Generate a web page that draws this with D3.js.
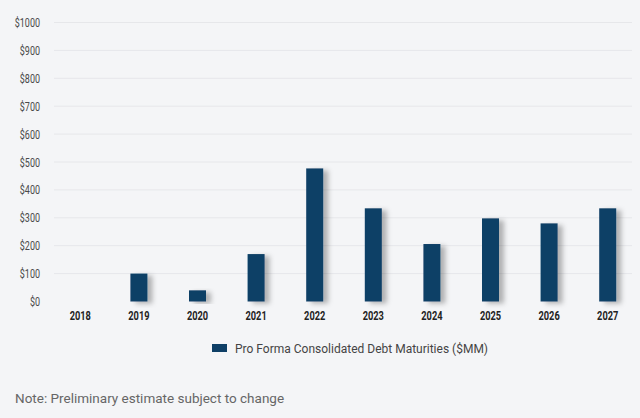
<!DOCTYPE html>
<html><head><meta charset="utf-8">
<script src="https://cdn.jsdelivr.net/npm/d3@7"></script>
<style>
body{margin:0;background:#f4f5f7;}
svg{display:block;}
</style></head>
<body>
<svg id="c" width="640" height="418"></svg>
<script>
const years = ["2018","2019","2020","2021","2022","2023","2024","2025","2026","2027"];
const maturities = [0,100,40,170,477,334,206,298,280,334];
const yTicks = [0,100,200,300,400,500,600,700,800,900,1000];
const seriesName = "Pro Forma Consolidated Debt Maturities ($MM)";
const note = "Note: Preliminary estimate subject to change";

const svg = d3.select("#c");
svg.append("rect").attr("width",640).attr("height",418).attr("fill","#f4f5f7");
const defs = svg.append("defs");
const f = defs.append("filter").attr("id","sh").attr("x","-50%").attr("y","-20%").attr("width","250%").attr("height","140%");
f.append("feDropShadow").attr("dx",5).attr("dy",2).attr("stdDeviation",2.5).attr("flood-color","#000").attr("flood-opacity",0.28);

const x = d3.scaleBand().domain(years).range([51,637]).paddingInner(0.71).paddingOuter(0.355);
const y = d3.scaleLinear().domain([0,1000]).range([301.5,22.5]);

const grid = svg.append("g");
grid.selectAll("line").data(yTicks.filter(d=>d>0)).join("line")
  .attr("x1",54).attr("x2",632).attr("y1",d=>y(d)).attr("y2",d=>y(d))
  .attr("stroke","#e6e7ea").attr("stroke-width",1);

const yAxis = svg.append("g").attr("transform","translate(40,0)")
  .call(d3.axisLeft(y).tickValues(yTicks).tickSize(0).tickPadding(0).tickFormat(d=>"$"+d));
yAxis.select(".domain").remove();
yAxis.selectAll("text").attr("font-family","Roboto,sans-serif").attr("font-size",12.5).attr("fill","#4a4a4a")
  .attr("transform","scale(0.72,1)");

svg.append("g").selectAll("rect").data(years.map((d,i)=>({year:d,v:maturities[i]})).filter(d=>d.v>0)).join("rect")
  .attr("x",d=>x(d.year)).attr("width",x.bandwidth())
  .attr("y",d=>y(d.v)).attr("height",d=>y(0)-y(d.v))
  .attr("fill","#0e3f66").attr("filter","url(#sh)");

const xAxis = svg.append("g").attr("transform","translate(0,311)")
  .call(d3.axisBottom(x).tickSize(0).tickPadding(0));
xAxis.select(".domain").remove();
xAxis.selectAll("text").attr("font-family","Roboto,sans-serif").attr("font-weight","bold").attr("font-size",12.5).attr("fill","#222")
  .attr("transform","scale(0.74,1)");

const lg = svg.append("g");
lg.append("rect").attr("x",212).attr("y",344).attr("width",15).attr("height",8).attr("fill","#0e3f66");
lg.append("text").attr("x",235).attr("y",352.5).attr("font-family","Roboto,sans-serif").attr("font-size",12).attr("fill","#444").text(seriesName);

svg.append("text").attr("x",15).attr("y",403).attr("font-family","Roboto,sans-serif").attr("font-size",13.5).attr("fill","#666").text(note);
</script>
</body></html>
